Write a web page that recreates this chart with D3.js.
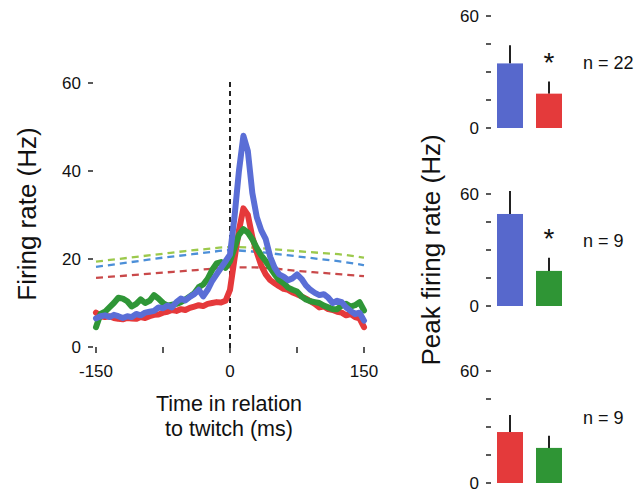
<!DOCTYPE html>
<html>
<head>
<meta charset="utf-8">
<script src="https://cdn.jsdelivr.net/npm/d3@7"></script>
<style>
  body { margin: 0; background: #fff; }
  svg { display: block; }
  text { font-family: "Liberation Sans", Arial, Helvetica, sans-serif; fill: #111; }
</style>
</head>
<body>
<svg id="chart" width="644" height="493"></svg>
<script>
// ---- Data -------------------------------------------------------------
// Time axis of the population firing-rate traces (ms relative to twitch)
const timeMs = [-150,-145,-140,-135,-130,-125,-120,-115,-110,-105,-100,-95,-90,-85,-80,-75,-70,-65,-60,-55,-50,-45,-40,-35,-30,-25,-20,-15,-10,-5,0,5,10,15,20,25,30,35,40,45,50,55,60,65,70,75,80,85,90,95,100,105,110,115,120,125,130,135,140,145,150];

const rateBlue = [6.5,7.0,7.2,6.8,7.3,7.0,6.6,7.0,6.8,7.5,7.2,7.8,8.0,8.2,9.0,8.8,9.4,9.0,10.2,11.0,10.6,11.4,12.0,13.0,11.5,13.0,15.0,16.5,18.0,19.5,21.0,29.5,40.0,48.0,44.5,35.0,29.5,26.5,24.5,20.5,18.0,16.5,16.0,15.2,15.6,16.5,15.5,14.0,13.0,12.3,11.8,12.0,11.2,10.0,10.5,10.2,9.0,8.2,7.5,7.8,6.0];

const rateRed = [7.8,7.0,6.8,7.0,6.6,6.4,6.3,6.6,6.5,6.4,6.8,6.6,7.0,7.3,7.4,7.8,8.0,8.4,8.2,8.6,8.4,8.9,9.2,9.5,9.3,9.8,10.0,10.2,10.1,10.5,13.0,20.0,26.5,31.5,30.0,25.0,21.5,18.5,16.5,15.2,14.5,13.8,13.2,13.0,12.4,12.0,11.5,11.0,10.4,9.8,9.0,9.2,8.6,8.4,8.0,7.8,7.2,7.5,6.8,6.5,4.5];

const rateGreen = [4.5,7.5,8.0,9.0,10.0,11.2,11.0,10.4,9.2,9.8,10.8,10.0,10.5,11.8,11.0,10.0,9.4,9.6,9.8,10.2,10.8,11.5,12.2,13.6,14.2,15.5,17.5,19.0,19.3,18.0,19.5,22.5,25.5,26.8,26.0,24.5,22.5,20.8,19.5,18.0,16.5,15.2,14.5,13.5,13.0,12.6,11.5,10.8,10.4,10.2,10.0,9.4,9.0,8.6,8.6,9.4,9.8,9.2,9.5,10.2,8.3];

// Significance thresholds (dashed), sampled every 25 ms
const thresholdTime = [-150,-125,-100,-75,-50,-25,0,25,50,75,100,125,150];
const thresholdGreen = [19.4,20.0,20.6,21.2,21.8,22.3,22.7,22.6,22.2,21.8,21.4,21.0,20.3];
const thresholdBlue  = [18.2,18.9,19.6,20.3,20.9,21.5,22.0,21.7,21.2,20.6,20.0,19.4,18.6];
const thresholdRed   = [15.7,16.1,16.5,16.9,17.3,17.7,18.1,18.1,17.8,17.3,16.9,16.5,16.1];

const xTicks = [-150,-75,0,75,150];
const xTickLabels = ["-150","","0","","150"];
const yTicks = [0,20,40,60];

// Peak firing rate comparisons (mean and error)
const peakGroups = [["blue","red"],["blue","green"],["red","green"]];
const peakMeans  = [[34.6,18.4],[49.3,18.8],[27.3,18.8]];
const peakErrors = [[9.7,6.5],[12.3,7.0],[9.1,6.5]];
const peakN      = ["n = 22","n = 9","n = 9"];
const peakSignificant = [true,true,false];
const peakTicks  = [0,15,30,45,60];

// ---- Styles -----------------------------------------------------------
const lineColor = { blue: "#5a6ed6", red: "#e5393b", green: "#2f9637" };
const barColor  = { blue: "#5768cc", red: "#e43a3b", green: "#2f9535" };
const dashColor = { green: "#9cc94c", blue: "#4c8fd8", red: "#c9494a" };

const svg = d3.select("#chart");

// ---- Firing-rate time course ------------------------------------------
const x = d3.scaleLinear().domain([-150,150]).range([96,364]);
const y = d3.scaleLinear().domain([0,60]).range([347,83]);

const main = svg.append("g");

// y ticks (marks + labels)
main.selectAll(".ytick").data(yTicks).join("line")
  .attr("x1", 88).attr("x2", 93)
  .attr("y1", d => y(d)).attr("y2", d => y(d))
  .attr("stroke", "#222").attr("stroke-width", 1.5);
main.selectAll(".ylab").data(yTicks).join("text")
  .attr("x", 81).attr("y", d => y(d))
  .attr("dy", "0.35em").attr("text-anchor", "end")
  .style("font-size", "17px").text(d => d);

// x ticks
main.selectAll(".xtick").data(xTicks).join("line")
  .attr("x1", d => x(d)).attr("x2", d => x(d))
  .attr("y1", 347).attr("y2", 353)
  .attr("stroke", "#222").attr("stroke-width", 1.5);
main.selectAll(".xlab").data(xTicks).join("text")
  .attr("x", d => x(d)).attr("y", 377)
  .attr("text-anchor", "middle")
  .style("font-size", "17px").text((d, i) => xTickLabels[i]);

// twitch onset marker
main.append("line")
  .attr("x1", x(0)).attr("x2", x(0))
  .attr("y1", y(60) - 1).attr("y2", 352)
  .attr("stroke", "#222").attr("stroke-width", 2)
  .attr("stroke-dasharray", "5,4");

// dashed thresholds
const dashLine = d3.line()
  .x((d, i) => x(thresholdTime[i])).y(d => y(d))
  .curve(d3.curveMonotoneX);
[["green", thresholdGreen], ["blue", thresholdBlue], ["red", thresholdRed]].forEach(([k, vals]) => {
  main.append("path").datum(vals)
    .attr("d", dashLine)
    .attr("fill", "none").attr("stroke", dashColor[k])
    .attr("stroke-width", 2.3).attr("stroke-dasharray", "7,5");
});

// rate traces
const rateLine = d3.line()
  .x((d, i) => x(timeMs[i])).y(d => y(d));
[["red", rateRed], ["green", rateGreen], ["blue", rateBlue]].forEach(([k, vals]) => {
  main.append("path").datum(vals)
    .attr("d", rateLine)
    .attr("fill", "none").attr("stroke", lineColor[k])
    .attr("stroke-width", 6).attr("stroke-linejoin", "round").attr("stroke-linecap", "round");
});

// axis titles
main.append("text")
  .attr("transform", "translate(36,214) rotate(-90)")
  .attr("text-anchor", "middle")
  .style("font-size", "26px").text("Firing rate (Hz)");
main.append("text")
  .attr("x", 229).attr("y", 411)
  .attr("text-anchor", "middle")
  .style("font-size", "21.5px").text("Time in relation");
main.append("text")
  .attr("x", 229).attr("y", 435.5)
  .attr("text-anchor", "middle")
  .style("font-size", "21.5px").text("to twitch (ms)");

// ---- Peak firing rate panels ------------------------------------------
const panelBase = [128, 306, 483];
const panelHeight = 112;
const bx = d3.scaleBand().domain([0, 1]).range([490.5, 568.5])
  .paddingInner(1 / 3).paddingOuter(1 / 6);

peakGroups.forEach((groups, p) => {
  const py = d3.scaleLinear().domain([0, 60])
    .range([panelBase[p], panelBase[p] - panelHeight]);
  const g = svg.append("g");

  g.selectAll(".pt").data(peakTicks).join("line")
    .attr("x1", 486).attr("x2", 491)
    .attr("y1", d => py(d)).attr("y2", d => py(d))
    .attr("stroke", "#222").attr("stroke-width", 1.5);
  g.selectAll(".pl").data([0, 60]).join("text")
    .attr("x", 479).attr("y", d => py(d))
    .attr("dy", "0.35em").attr("text-anchor", "end")
    .style("font-size", "17px").text(d => d);

  const bars = groups.map((k, i) => ({ k, i, v: peakMeans[p][i], e: peakErrors[p][i] }));
  g.selectAll(".err").data(bars).join("line")
    .attr("x1", d => bx(d.i) + bx.bandwidth() / 2)
    .attr("x2", d => bx(d.i) + bx.bandwidth() / 2)
    .attr("y1", d => py(d.v)).attr("y2", d => py(d.v + d.e))
    .attr("stroke", "#222").attr("stroke-width", 2);
  g.selectAll(".bar").data(bars).join("rect")
    .attr("x", d => bx(d.i)).attr("width", bx.bandwidth())
    .attr("y", d => py(d.v)).attr("height", d => py(0) - py(d.v))
    .attr("fill", d => barColor[d.k]);

  if (peakSignificant[p]) {
    const b = bars[1];
    g.append("text")
      .attr("x", bx(1) + bx.bandwidth() / 2)
      .attr("y", py(b.v + b.e) - 10)
      .attr("text-anchor", "middle")
      .style("font-size", "28px").text("*");
  }
  g.append("text")
    .attr("x", 583).attr("y", py(35))
    .attr("dy", "0.35em")
    .style("font-size", "18px").text(peakN[p]);
});

svg.append("text")
  .attr("transform", "translate(440,250) rotate(-90)")
  .attr("text-anchor", "middle")
  .style("font-size", "26px").text("Peak firing rate (Hz)");
</script>
</body>
</html>
